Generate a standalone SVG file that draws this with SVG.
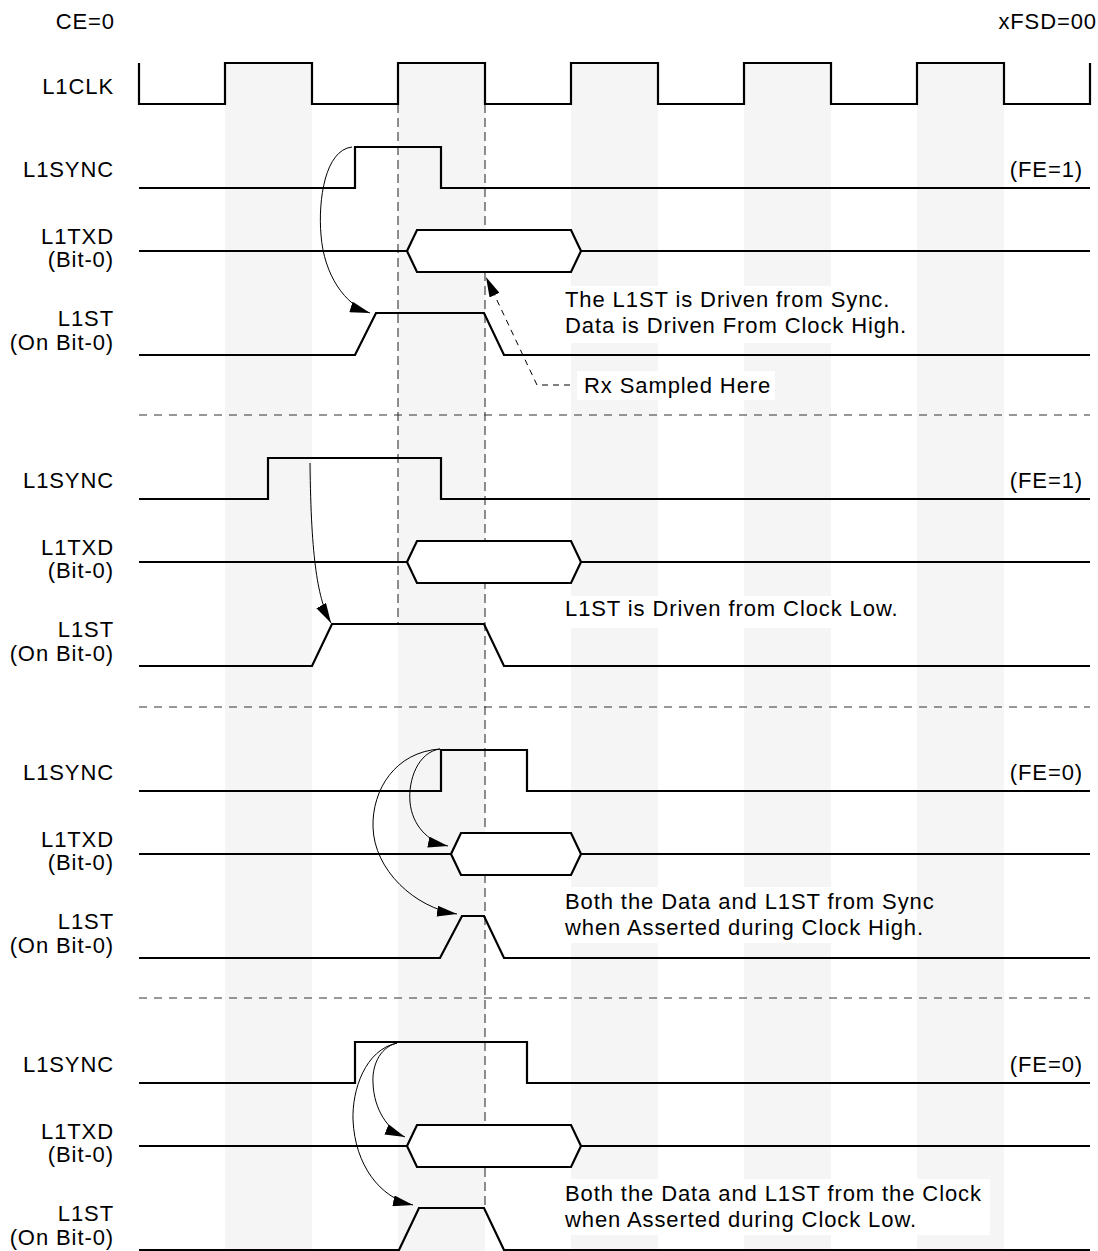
<svg xmlns="http://www.w3.org/2000/svg" width="1098" height="1251" viewBox="0 0 1098 1251">
<style>
text{font-family:"Liberation Sans",Arial,sans-serif;font-size:22px;letter-spacing:0.9px;fill:#000}
.lbl{text-anchor:end}
.band{fill:#f5f5f5}
.wave{fill:none;stroke:#000;stroke-width:2.2;stroke-linejoin:miter}
.hex{fill:#fff;stroke:#000;stroke-width:2.2}
.vd{stroke:#333;stroke-width:1.1;stroke-dasharray:9 5;fill:none}
.sep{stroke:#333;stroke-width:1.1;stroke-dasharray:8 7;fill:none}
.arr{fill:none;stroke:#000;stroke-width:1;marker-end:url(#ah)}
.darr{fill:none;stroke:#000;stroke-width:1;stroke-dasharray:6 5;marker-end:url(#ah)}
.box{fill:#fff}
</style>
<defs>
<marker id="ah" viewBox="0 0 20 11" refX="20" refY="5.5" markerWidth="20" markerHeight="11" orient="auto" markerUnits="userSpaceOnUse"><path d="M0,0 L20,5.5 L0,11 Z" fill="#000"/></marker>
</defs>
<rect width="1098" height="1251" fill="#fff"/>
<g id="bands">
<rect class="band" x="225" y="63" width="87" height="1188"/>
<rect class="band" x="398" y="63" width="87" height="1188"/>
<rect class="band" x="571" y="63" width="87" height="1188"/>
<rect class="band" x="744" y="63" width="87" height="1188"/>
<rect class="band" x="917" y="63" width="87" height="1188"/>
</g>
<g id="textboxes">
<rect class="box" x="556" y="286" width="356" height="57"/>
<rect class="box" x="577" y="371" width="198" height="29"/>
<rect class="box" x="556" y="596" width="349" height="32"/>
<rect class="box" x="556" y="887" width="361" height="56"/>
<rect class="box" x="556" y="1179" width="434" height="56"/>
</g>
<g id="guides">
<line class="vd" x1="398" y1="104" x2="398" y2="624"/>
<line class="vd" x1="485" y1="104" x2="485" y2="1208"/>
<line class="sep" x1="139" y1="415" x2="1090" y2="415"/>
<line class="sep" x1="139" y1="707" x2="1090" y2="707"/>
<line class="sep" x1="139" y1="998" x2="1090" y2="998"/>
</g>
<g id="header">
<text class="lbl" x="115" y="29">CE=0</text>
<text class="lbl" x="1097" y="29">xFSD=00</text>
</g>
<g id="clk">
<text class="lbl" x="114" y="94">L1CLK</text>
<path class="wave" d="M139,63 V104 H225 V63 H312 V104 H398 V63 H485 V104 H571 V63 H658 V104 H744 V63 H831 V104 H917 V63 H1004 V104 H1090 V63"/>
</g>
<g id="sec1">
<g id="s1-sync"><text class="lbl" x="114" y="177">L1SYNC</text><text class="lbl" x="1083" y="177">(FE=1)</text>
<path class="wave" d="M139,188 H355 V147 H441 V188 H1090"/></g>
<g id="s1-txd"><text class="lbl" x="114" y="244">L1TXD</text><text class="lbl" x="114" y="267">(Bit-0)</text>
<path class="wave" d="M139,251 H407 M581,251 H1090"/>
<path class="hex" d="M407,251 L417,230 H571 L581,251 L571,272 H417 Z"/></g>
<g id="s1-st"><text class="lbl" x="114" y="326">L1ST</text><text class="lbl" x="114" y="350">(On Bit-0)</text>
<path class="wave" d="M139,355 H355 L376,313 H484 L504,355 H1090"/></g>
<g id="s1-note"><text x="565" y="307">The L1ST is Driven from Sync.</text><text x="565" y="333">Data is Driven From Clock High.</text>
<text x="584" y="393">Rx Sampled Here</text></g>
</g>
<g id="sec2">
<g id="s2-sync"><text class="lbl" x="114" y="488">L1SYNC</text><text class="lbl" x="1083" y="488">(FE=1)</text>
<path class="wave" d="M139,499 H268 V458 H441 V499 H1090"/></g>
<g id="s2-txd"><text class="lbl" x="114" y="555">L1TXD</text><text class="lbl" x="114" y="578">(Bit-0)</text>
<path class="wave" d="M139,562 H407 M581,562 H1090"/>
<path class="hex" d="M407,562 L417,541 H571 L581,562 L571,583 H417 Z"/></g>
<g id="s2-st"><text class="lbl" x="114" y="637">L1ST</text><text class="lbl" x="114" y="661">(On Bit-0)</text>
<path class="wave" d="M139,666 H312 L332,624 H484 L504,666 H1090"/></g>
<g id="s2-note"><text x="565" y="616">L1ST is Driven from Clock Low.</text></g>
</g>
<g id="sec3">
<g id="s3-sync"><text class="lbl" x="114" y="780">L1SYNC</text><text class="lbl" x="1083" y="780">(FE=0)</text>
<path class="wave" d="M139,791 H441 V750 H527 V791 H1090"/></g>
<g id="s3-txd"><text class="lbl" x="114" y="847">L1TXD</text><text class="lbl" x="114" y="870">(Bit-0)</text>
<path class="wave" d="M139,854 H451 M581,854 H1090"/>
<path class="hex" d="M451,854 L461,833 H571 L581,854 L571,875 H461 Z"/></g>
<g id="s3-st"><text class="lbl" x="114" y="929">L1ST</text><text class="lbl" x="114" y="953">(On Bit-0)</text>
<path class="wave" d="M139,958 H440 L462,916 H484 L504,958 H1090"/></g>
<g id="s3-note"><text x="565" y="909">Both the Data and L1ST from Sync</text><text x="565" y="935">when Asserted during Clock High.</text></g>
</g>
<g id="sec4">
<g id="s4-sync"><text class="lbl" x="114" y="1072">L1SYNC</text><text class="lbl" x="1083" y="1072">(FE=0)</text>
<path class="wave" d="M139,1083 H355 V1042 H527 V1083 H1090"/></g>
<g id="s4-txd"><text class="lbl" x="114" y="1139">L1TXD</text><text class="lbl" x="114" y="1162">(Bit-0)</text>
<path class="wave" d="M139,1146 H407 M581,1146 H1090"/>
<path class="hex" d="M407,1146 L417,1125 H571 L581,1146 L571,1167 H417 Z"/></g>
<g id="s4-st"><text class="lbl" x="114" y="1221">L1ST</text><text class="lbl" x="114" y="1245">(On Bit-0)</text>
<path class="wave" d="M139,1250 H399 L419,1208 H484 L504,1250 H1090"/></g>
<g id="s4-note"><text x="565" y="1201">Both the Data and L1ST from the Clock</text><text x="565" y="1227">when Asserted during Clock Low.</text></g>
</g>
<g id="connectors">
<path class="arr" d="M352,147 C325,150 318,200 321,235 C324,275 345,305 370,313"/>
<path class="darr" d="M570,385 H537 L486,277"/>
<path class="arr" d="M310,463 C311,560 318,600 331,623"/>
<path class="arr" d="M440,749 C418,752 408,780 410,802 C412,825 428,842 448,846"/>
<path class="arr" d="M440,749 C395,752 372,790 373,827 C374,870 415,908 457,914"/>
<path class="arr" d="M397,1043 C378,1048 372,1068 373,1083 C374,1110 388,1130 405,1137"/>
<path class="arr" d="M397,1043 C365,1050 352,1090 353,1120 C355,1165 380,1198 413,1205"/>
</g>
</svg>
